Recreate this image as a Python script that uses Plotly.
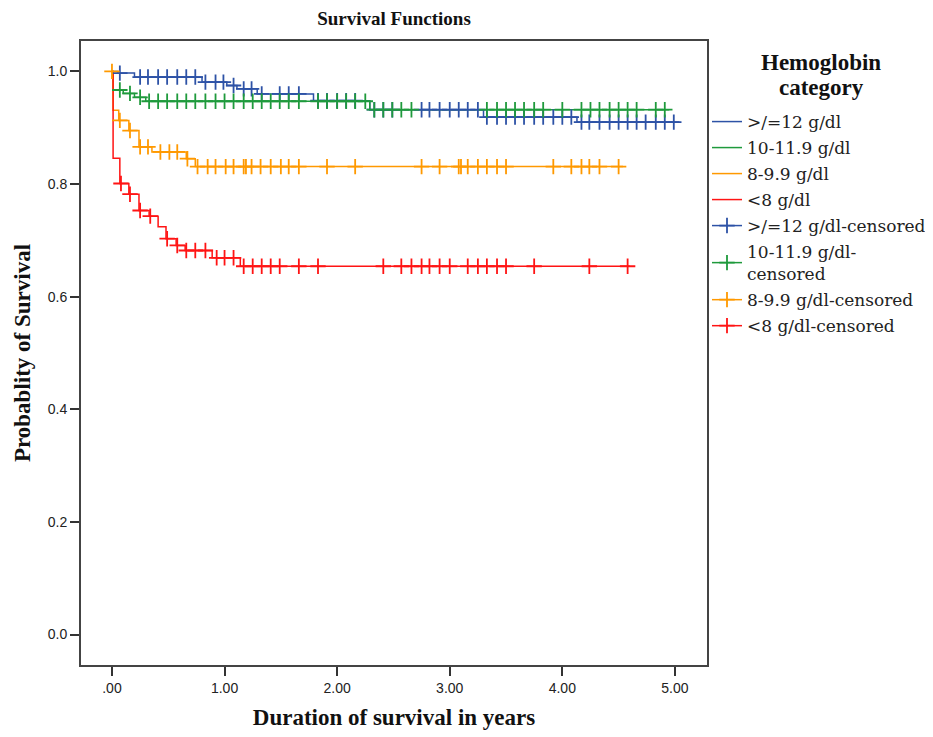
import plotly.graph_objects as go

# ---- Kaplan-Meier step data (time in years, survival probability) ----
hi_t = [0, 0.05, 0.20, 0.80, 1.02, 1.11, 1.29, 1.79, 2.29, 3.30, 4.13, 5.04]
hi_s = [1.0, 0.997, 0.990, 0.981, 0.975, 0.969, 0.960, 0.948, 0.932, 0.919, 0.910, 0.910]
hi_cens = [0.07, 0.25, 0.32, 0.41, 0.49, 0.58, 0.66, 0.74, 0.83, 0.92, 0.99, 1.08,
           1.17, 1.24, 1.33, 1.49, 1.57, 1.66, 1.83, 1.91, 2.00, 2.08, 2.16, 2.33,
           2.41, 2.49, 2.75, 2.82, 2.91, 3.00, 3.08, 3.16, 3.25, 3.33, 3.42, 3.50,
           3.58, 3.66, 3.75, 3.83, 3.92, 4.00, 4.08, 4.17, 4.24, 4.33, 4.42, 4.50,
           4.58, 4.66, 4.74, 4.83, 4.91, 4.99]

mid_t = [0, 0.01, 0.10, 0.20, 0.30, 2.29, 4.95]
mid_s = [1.0, 0.967, 0.961, 0.954, 0.947, 0.932, 0.932]
mid_cens = [0.07, 0.16, 0.25, 0.33, 0.41, 0.49, 0.58, 0.66, 0.74, 0.83, 0.92, 1.00,
            1.08, 1.17, 1.25, 1.33, 1.41, 1.49, 1.57, 1.66, 1.83, 1.91, 2.00, 2.08,
            2.16, 2.25, 2.33, 2.41, 2.49, 2.57, 2.66, 3.33, 3.42, 3.50, 3.58, 3.66,
            3.75, 3.83, 4.00, 4.17, 4.25, 4.33, 4.42, 4.50, 4.58, 4.66, 4.83, 4.91]

low_t = [0, 0.01, 0.06, 0.15, 0.24, 0.355, 0.66, 0.74, 4.54]
low_s = [1.0, 0.931, 0.913, 0.895, 0.866, 0.857, 0.845, 0.831, 0.831]
low_cens = [0.0, 0.07, 0.16, 0.25, 0.32, 0.43, 0.51, 0.58, 0.67, 0.76, 0.85, 0.92,
            1.01, 1.08, 1.17, 1.19, 1.24, 1.32, 1.41, 1.50, 1.57, 1.66, 1.91, 2.16,
            2.75, 2.91, 3.08, 3.10, 3.16, 3.25, 3.33, 3.42, 3.50, 3.92, 4.08, 4.17,
            4.24, 4.33, 4.50]

vlow_t = [0, 0.01, 0.07, 0.15, 0.24, 0.33, 0.41, 0.48, 0.57, 0.65, 0.89, 1.14, 4.60]
vlow_s = [1.0, 0.846, 0.801, 0.782, 0.753, 0.743, 0.724, 0.703, 0.691, 0.682, 0.669, 0.654, 0.654]
vlow_cens = [0.08, 0.16, 0.25, 0.34, 0.49, 0.58, 0.66, 0.74, 0.83, 0.93, 1.00, 1.08,
             1.17, 1.25, 1.33, 1.41, 1.49, 1.66, 1.83, 2.41, 2.57, 2.66, 2.75, 2.82,
             2.91, 3.00, 3.16, 3.25, 3.33, 3.42, 3.50, 3.75, 4.24, 4.58]

groups = [">/=12 g/dl", "10-11.9 g/dl", "8-9.9 g/dl", "<8 g/dl"]
cens_names = [">/=12 g/dl-censored", "10-11.9 g/dl-<br>censored",
              "8-9.9 g/dl-censored", "<8 g/dl-censored"]
colors = ["#2d52a6", "#1f9a3c", "#ff9900", "#ff1414"]

x_ticks = [0, 1, 2, 3, 4, 5]
x_ticklabels = [".00", "1.00", "2.00", "3.00", "4.00", "5.00"]
y_ticks = [0.0, 0.2, 0.4, 0.6, 0.8, 1.0]
y_ticklabels = ["0.0", "0.2", "0.4", "0.6", "0.8", "1.0"]


def surv_at(ts, ss, t):
    val = ss[0]
    for ti, si in zip(ts, ss):
        if ti <= t:
            val = si
    return val


steps = [(hi_t, hi_s), (mid_t, mid_s), (low_t, low_s), (vlow_t, vlow_s)]
cens = [hi_cens, mid_cens, low_cens, vlow_cens]

fig = go.Figure()
for i, ((ts, ss), name, col) in enumerate(zip(steps, groups, colors)):
    fig.add_trace(go.Scatter(x=ts, y=ss, mode="lines", name=name,
                             legendgroup=f"g{i}",
                             line=dict(color=col, width=1.5, shape="hv"),
                             hoverinfo="skip"))

for i, ((ts, ss), cts, name, col) in enumerate(zip(steps, cens, cens_names, colors)):
    xs, ys = [], []
    for c in cts:
        xs += [c, None]
        ys += [surv_at(ts, ss, c), None]
    fig.add_trace(go.Scatter(x=xs, y=ys, mode="lines+markers", name=name,
                             legendgroup=f"c{i}",
                             line=dict(color=col, width=1.5),
                             marker=dict(symbol="cross-thin", size=11,
                                         line=dict(color=col, width=1.8)),
                             connectgaps=False, hoverinfo="skip"))

axis_common = dict(showgrid=False, zeroline=False, showline=True, mirror=True,
                   linecolor="#444444", linewidth=2, ticks="outside", ticklen=9,
                   tickwidth=1.5, tickcolor="#333333",
                   tickfont=dict(family="Liberation Sans, Arial", size=14, color="#222222"))

title_font = dict(family="Liberation Serif", size=23, color="#111111")

fig.update_layout(
    width=933, height=737,
    margin=dict(l=73, r=234, t=33, b=80, autoexpand=False),
    paper_bgcolor="white", plot_bgcolor="white",
    title=dict(text="<b>Survival Functions</b>", x=0.5, xref="paper",
               y=1 - 10 / 737, yref="container", yanchor="middle", xanchor="center",
               font=dict(family="Liberation Serif", size=19, color="#111111")),
    xaxis=dict(range=[-0.275, 5.285], tickvals=x_ticks, ticktext=x_ticklabels,
               title=dict(text="<b>Duration of survival in years</b>", standoff=14,
                          font=title_font),
               **axis_common),
    yaxis=dict(range=[-0.054, 1.054], tickvals=y_ticks, ticktext=y_ticklabels,
               title=dict(text="<b>Probablity of Survival</b>", standoff=11,
                          font=title_font),
               **axis_common),
    legend=dict(x=1.0, xanchor="left", y=0.899, yanchor="top",
                bgcolor="rgba(0,0,0,0)", borderwidth=0,
                font=dict(family="DejaVu Serif", size=17, color="#222222"),
                tracegroupgap=0.9, traceorder="grouped"),
    showlegend=True,
    annotations=[
        dict(text="<b>Hemoglobin</b>", xref="paper", yref="paper",
             x=(813 - 73) / 626, y=1 - (55 - 33) / 624, xanchor="center", yanchor="middle",
             showarrow=False, font=title_font),
        dict(text="<b>category</b>", xref="paper", yref="paper",
             x=(813 - 73) / 626, y=1 - (80 - 33) / 624, xanchor="center", yanchor="middle",
             showarrow=False, font=title_font),
    ],
)

fig.write_html("out.html")
